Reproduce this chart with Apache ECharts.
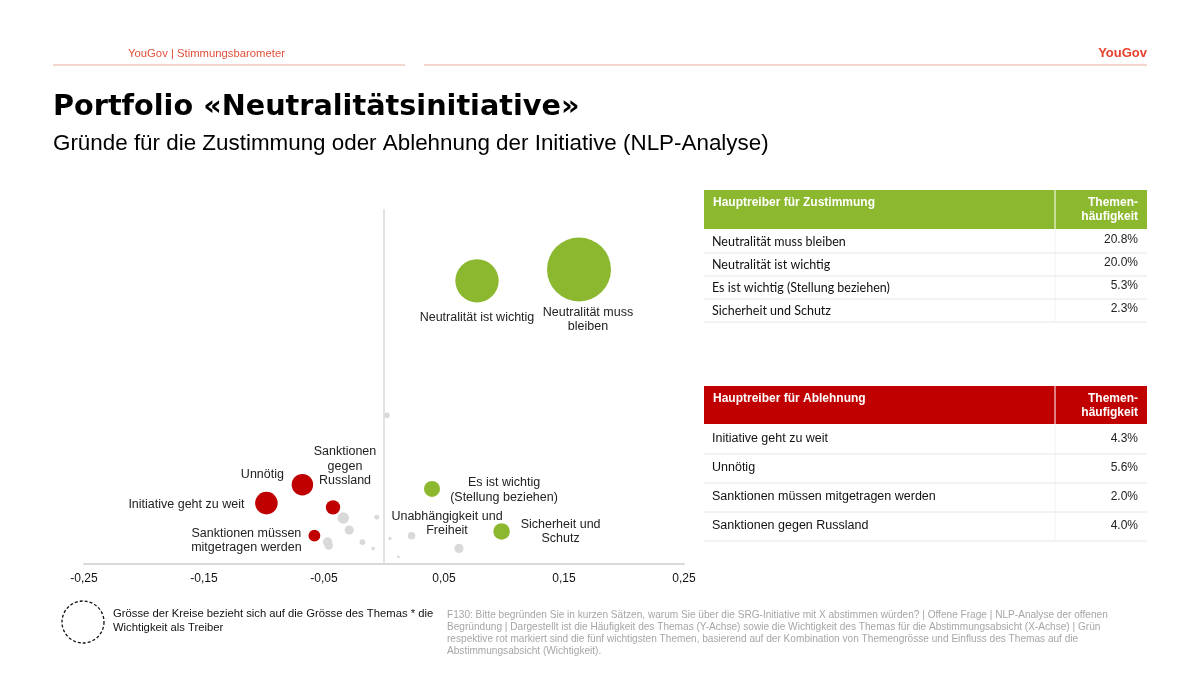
<!DOCTYPE html>
<html>
<head>
<meta charset="utf-8">
<script src="https://cdn.jsdelivr.net/npm/echarts@6/dist/echarts.min.js"></script>
<style>
  html, body { margin: 0; padding: 0; background: #fff; }
  #chart { width: 1200px; height: 674px; }
</style>
</head>
<body>
<div id="chart"></div>
<script>
// ---------- data ----------
const proNames = ['Neutralität muss bleiben', 'Neutralität ist wichtig', 'Es ist wichtig (Stellung beziehen)', 'Sicherheit und Schutz'];
const proImportance = [0.1625, 0.0775, 0.040, 0.098];
const proFrequency = [20.8, 20.0, 5.3, 2.3];

const contraNames = ['Initiative geht zu weit', 'Unnötig', 'Sanktionen müssen mitgetragen werden', 'Sanktionen gegen Russland'];
const contraImportance = [-0.098, -0.068, -0.058, -0.0425];
const contraFrequency = [4.3, 5.6, 2.0, 4.0];

const otherNames = ['', '', '', '', '', '', '', 'Unabhängigkeit und Freiheit', '', '', '', ''];
const otherImportance = [0.0025, -0.034, -0.029, -0.006, -0.018, -0.047, -0.046, 0.0625, 0.023, 0.005, -0.009, 0.012];
const otherFrequency = [10.5, 3.25, 2.4, 3.3, 1.55, 1.55, 1.3, 1.1, 2.0, 1.8, 1.1, 0.5];

const xTickValues = [-0.25, -0.15, -0.05, 0.05, 0.15, 0.25];
const xTickLabels = ['-0,25', '-0,15', '-0,05', '0,05', '0,15', '0,25'];

const proTableRows = ['Neutralität muss bleiben', 'Neutralität ist wichtig', 'Es ist wichtig (Stellung beziehen)', 'Sicherheit und Schutz'];
const proTableShares = ['20.8%', '20.0%', '5.3%', '2.3%'];
const contraTableRows = ['Initiative geht zu weit', 'Unnötig', 'Sanktionen müssen mitgetragen werden', 'Sanktionen gegen Russland'];
const contraTableShares = ['4.3%', '5.6%', '2.0%', '4.0%'];

// ---------- styling ----------
const GREEN = '#8cb82f';
const RED = '#c00000';
const GREY = '#d9d9d9';
const labelText = {
  'Neutralität muss bleiben': 'Neutralität muss\nbleiben',
  'Neutralität ist wichtig': 'Neutralität ist wichtig',
  'Es ist wichtig (Stellung beziehen)': 'Es ist wichtig\n(Stellung beziehen)',
  'Sicherheit und Schutz': 'Sicherheit und\nSchutz',
  'Initiative geht zu weit': 'Initiative geht zu weit',
  'Unnötig': 'Unnötig',
  'Sanktionen müssen mitgetragen werden': 'Sanktionen müssen\nmitgetragen werden',
  'Sanktionen gegen Russland': 'Sanktionen\ngegen\nRussland',
  'Unabhängigkeit und Freiheit': 'Unabhängigkeit und\nFreiheit'
};
const labelOffset = {
  'Neutralität muss bleiben': [9, 50],
  'Neutralität ist wichtig': [0, 37],
  'Es ist wichtig (Stellung beziehen)': [72, 1],
  'Sicherheit und Schutz': [59, 0],
  'Initiative geht zu weit': [-80, 1],
  'Unnötig': [-40, -10],
  'Sanktionen müssen mitgetragen werden': [-68, 5],
  'Sanktionen gegen Russland': [12, -41],
  'Unabhängigkeit und Freiheit': [-12, -25]
};

function sizeOf(v) {
  return Math.max(2, 34.8 * Math.sqrt(Math.abs(v[0]) * v[1]));
}
function buildData(names, xs, ys) {
  return names.map((n, i) => {
    const item = { name: n, value: [xs[i], ys[i]] };
    if (n && labelText[n]) {
      item.label = {
        show: true,
        formatter: labelText[n],
        offset: labelOffset[n]
      };
    }
    return item;
  });
}
const labelBase = {
  show: false,
  position: 'inside',
  align: 'center',
  verticalAlign: 'middle',
  color: '#222',
  fontFamily: 'Liberation Sans, Arial, sans-serif',
  fontSize: 12.5,
  lineHeight: 14.5
};

// ---------- graphic (header, tables, footer) ----------
const F = 'Liberation Sans, Arial, sans-serif';
const graphics = [];
function txt(x, y, text, font, fill, align, vAlign, extra) {
  graphics.push(Object.assign({
    type: 'text', x: x, y: y, silent: true,
    style: { text: text, font: font, fill: fill, align: align || 'left', verticalAlign: vAlign || 'middle' }
  }, extra || {}));
}
function line(x1, y1, x2, y2, stroke, w) {
  graphics.push({ type: 'line', silent: true, shape: { x1: x1, y1: y1, x2: x2, y2: y2 }, style: { stroke: stroke, lineWidth: w } });
}
function rect(x, y, w, h, fill) {
  graphics.push({ type: 'rect', silent: true, shape: { x: x, y: y, width: w, height: h }, style: { fill: fill } });
}

// header
txt(128, 54, 'YouGov | Stimmungsbarometer', '11.3px ' + F, '#e2503c');
line(53, 65, 405, 65, '#f0c7bf', 1.5);
line(424, 65, 1147, 65, '#f0c7bf', 1.5);
txt(1147, 53, 'YouGov', 'bold 13px ' + F, '#e5412d', 'right');

// title
txt(53, 108, 'Portfolio «Neutralitätsinitiative»', 'bold 28.7px DejaVu Sans, sans-serif', '#000');
txt(53, 144, 'Gründe für die Zustimmung oder Ablehnung der Initiative (NLP-Analyse)', '22.4px ' + F, '#000');

// tables
function table(top, headerH, rowCenters, rowSeps, color, title, rows, shares, rowFont, shareDy) {
  rect(704, top, 443, headerH, color);
  line(1055, top, 1055, top + headerH, '#ffffff', 1);
  txt(713, top + 13, title, 'bold 12px ' + F, '#fff');
  txt(1138, top + 13, 'Themen-', 'bold 12px ' + F, '#fff', 'right');
  txt(1138, top + 27, 'häufigkeit', 'bold 12px ' + F, '#fff', 'right');
  line(1055, top + headerH, 1055, rowSeps[rowSeps.length - 1], '#f2f2f2', 1);
  rowSeps.forEach(y => line(704, y, 1147, y, '#e6e6e6', 1));
  rows.forEach((r, i) => {
    txt(712, rowCenters[i], r, rowFont, '#111');
    txt(1138, rowCenters[i] + shareDy, shares[i], '12px ' + F, '#222', 'right');
  });
}
table(190, 39, [242, 265, 288, 311], [253, 276, 299, 322], GREEN, 'Hauptreiber für Zustimmung',
      proTableRows, proTableShares, '12.5px Lato, sans-serif', -2);
table(386, 38, [439, 468, 497, 526], [454, 483, 512, 541], RED, 'Hauptreiber für Ablehnung',
      contraTableRows, contraTableShares, '12.5px ' + F, 0);

// footer legend
graphics.push({ type: 'circle', silent: true, shape: { cx: 83, cy: 622, r: 21 },
  style: { fill: 'none', stroke: '#111', lineWidth: 1.3, lineDash: [3, 2] } });
txt(113, 614, 'Grösse der Kreise bezieht sich auf die Grösse des Themas * die', '11.25px ' + F, '#111');
txt(113, 628, 'Wichtigkeit als Treiber', '11.25px ' + F, '#111');

const footLines = [
  'F130: Bitte begründen Sie in kurzen Sätzen, warum Sie über die SRG-Initiative mit X abstimmen würden? | Offene Frage | NLP-Analyse der offenen',
  'Begründung | Dargestellt ist die Häufigkeit des Themas (Y-Achse) sowie die Wichtigkeit des Themas für die Abstimmungsabsicht (X-Achse) | Grün',
  'respektive rot markiert sind die fünf wichtigsten Themen, basierend auf der Kombination von Themengrösse und Einfluss des Themas auf die',
  'Abstimmungsabsicht (Wichtigkeit).'
];
footLines.forEach((t, i) => txt(447, 615 + i * 12, t, '10.1px ' + F, '#a6a6a6'));

// ---------- chart ----------
const chart = echarts.init(document.getElementById('chart'), null, { renderer: 'canvas' });
chart.setOption({
  animation: false,
  backgroundColor: '#fff',
  grid: { left: 84, right: 516, top: 210, bottom: 110, containLabel: false },
  xAxis: {
    type: 'value', min: -0.25, max: 0.25, interval: 0.05,
    axisLine: { onZero: false, lineStyle: { color: '#d9d9d9', width: 2 } },
    axisTick: { show: false },
    splitLine: { show: false },
    axisLabel: {
      margin: 9, color: '#111', fontFamily: F, fontSize: 12,
      showMinLabel: true, showMaxLabel: true,
      formatter: function (v) {
        const i = xTickValues.findIndex(t => Math.abs(t - v) < 1e-6);
        return i >= 0 ? xTickLabels[i] : '';
      }
    }
  },
  yAxis: {
    type: 'value', min: 0, max: 25,
    axisLine: { show: true, onZero: true, lineStyle: { color: '#d9d9d9', width: 1.5 } },
    axisTick: { show: false },
    axisLabel: { show: false },
    splitLine: { show: false }
  },
  series: [
    {
      type: 'scatter', name: 'Weitere Themen', z: 2,
      symbolSize: sizeOf,
      itemStyle: { color: GREY, opacity: 1 },
      label: labelBase,
      data: buildData(otherNames, otherImportance, otherFrequency)
    },
    {
      type: 'scatter', name: 'Zustimmung', z: 3,
      symbolSize: sizeOf,
      itemStyle: { color: GREEN, opacity: 1 },
      label: labelBase,
      data: buildData(proNames, proImportance, proFrequency)
    },
    {
      type: 'scatter', name: 'Ablehnung', z: 3,
      symbolSize: sizeOf,
      itemStyle: { color: RED, opacity: 1 },
      label: labelBase,
      data: buildData(contraNames, contraImportance, contraFrequency)
    }
  ],
  graphic: graphics
});
</script>
</body>
</html>
